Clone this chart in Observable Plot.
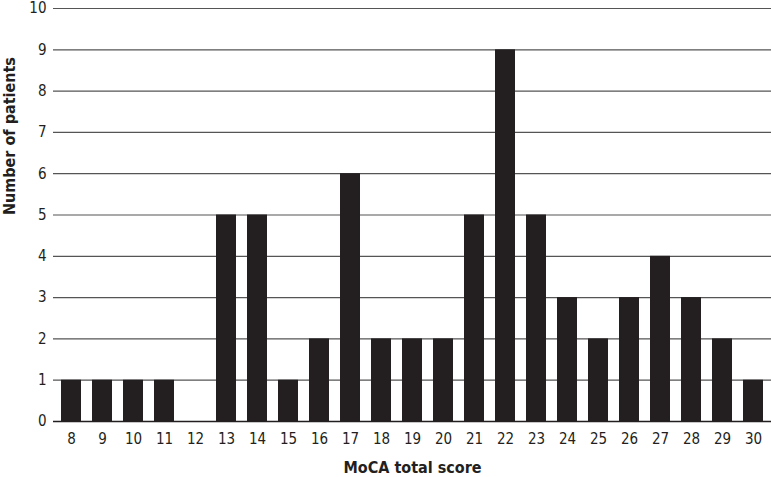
<!DOCTYPE html>
<html>
<head>
<meta charset="utf-8">
<script src="https://cdn.jsdelivr.net/npm/d3@7"></script>
<script src="https://cdn.jsdelivr.net/npm/@observablehq/plot@0.6"></script>
<style>
  html, body { margin: 0; padding: 0; background: #fff; }
  #chart svg { display: block; }
</style>
</head>
<body>
<div id="chart"></div>
<script>
const scores = [8, 9, 10, 11, 12, 13, 14, 15, 16, 17, 18, 19, 20, 21, 22, 23, 24, 25, 26, 27, 28, 29, 30];
const patients = [1, 1, 1, 1, 0, 5, 5, 1, 2, 6, 2, 2, 2, 5, 9, 5, 3, 2, 3, 4, 3, 2, 1];
const yTicks = [0, 1, 2, 3, 4, 5, 6, 7, 8, 9, 10];
const xTitle = "MoCA total score";
const yTitle = "Number of patients";

const data = scores.map((s, i) => ({score: s, count: patients[i]}));
const font = "'DejaVu Sans Condensed', 'Liberation Sans Narrow', 'Liberation Sans', sans-serif";

const chart = Plot.plot({
  width: 771,
  height: 477,
  marginLeft: 53,
  marginRight: 0,
  marginTop: 8,
  marginBottom: 56,
  style: {fontFamily: font, fontSize: "15px", color: "#231f20", background: "#fff", fontStretch: "condensed"},
  x: {type: "band", domain: scores, paddingInner: 0.35, paddingOuter: 0.18, label: null},
  y: {domain: [0, 10], label: null},
  marks: [
    Plot.ruleY(yTicks.filter(d => d > 0), {stroke: "#555", strokeWidth: 1.2}),
    Plot.barY(data, {x: "score", y: "count", fill: "#231f20"}),
    Plot.ruleY([0], {stroke: "#231f20", strokeWidth: 1.5}),
    Plot.axisY({ticks: yTicks, tickSize: 0, tickPadding: 7, label: null, fontSize: 15}),
    Plot.axisX({tickSize: 0, tickPadding: 12, label: null, fontSize: 15}),
    Plot.text([xTitle], {frameAnchor: "bottom", dy: 51, fontWeight: "bold", fontSize: 16}),
    Plot.text([yTitle], {frameAnchor: "left", dx: -44, rotate: -90, fontWeight: "bold", fontSize: 16})
  ]
});
document.getElementById("chart").append(chart);
</script>
</body>
</html>
